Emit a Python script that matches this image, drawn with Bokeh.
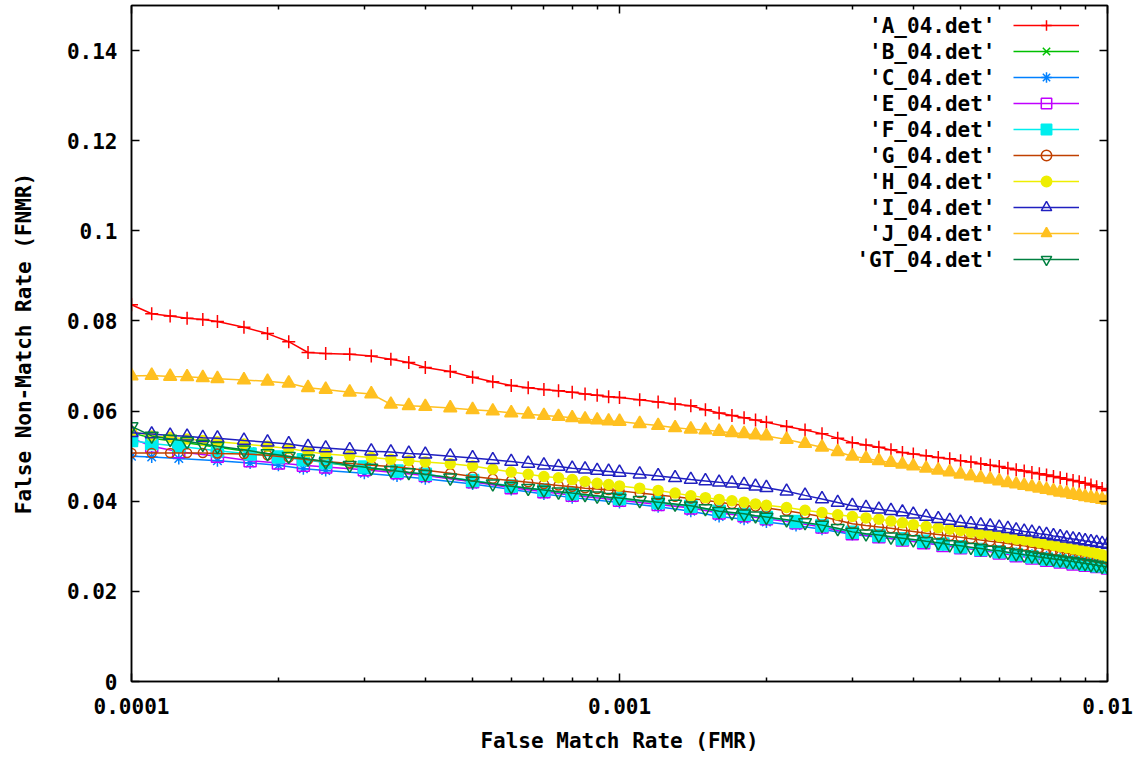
from bokeh.plotting import figure
from bokeh.models import (FixedTicker, CustomJSTickFormatter, LinearAxis, LogAxis,
                          Legend, LegendItem, Label)
from bokeh.core.properties import value
from bokeh.embed import file_html
from bokeh.resources import INLINE

# ---------------- data ----------------
# fine FMR grid used for the clearly visible curves
fmr_fine = [1e-4, 1.1e-4, 1.2e-4, 1.3e-4, 1.4e-4, 1.5e-4, 1.7e-4, 1.9e-4, 2.1e-4, 2.3e-4,
            2.5e-4, 2.8e-4, 3.1e-4, 3.4e-4, 3.7e-4, 4e-4, 4.5e-4, 5e-4, 5.5e-4, 6e-4,
            6.5e-4, 7e-4, 7.5e-4, 8e-4, 8.5e-4, 9e-4, 9.5e-4, 1e-3,
            1.1e-3, 1.2e-3, 1.3e-3, 1.4e-3, 1.5e-3, 1.6e-3, 1.7e-3, 1.8e-3, 1.9e-3, 2e-3,
            2.2e-3, 2.4e-3, 2.6e-3, 2.8e-3, 3e-3, 3.2e-3, 3.4e-3, 3.6e-3, 3.8e-3, 4e-3,
            4.25e-3, 4.5e-3, 4.75e-3, 5e-3, 5.25e-3, 5.5e-3, 5.75e-3, 6e-3, 6.25e-3, 6.5e-3,
            6.75e-3, 7e-3, 7.25e-3, 7.5e-3, 7.75e-3, 8e-3, 8.25e-3, 8.5e-3, 8.75e-3, 9e-3,
            9.25e-3, 9.5e-3, 9.75e-3, 1e-2]
# coarser FMR grid used for the curves that are mostly hidden under others
fmr_coarse = [1e-4, 1.1e-4, 1.25e-4, 1.5e-4, 1.75e-4, 2e-4, 2.25e-4, 2.5e-4, 3e-4, 3.5e-4,
              4e-4, 5e-4, 6e-4, 7e-4, 8e-4, 1e-3, 1.2e-3, 1.4e-3, 1.6e-3, 1.8e-3,
              2e-3, 2.3e-3, 2.6e-3, 3e-3, 3.4e-3, 3.8e-3, 4.2e-3, 4.6e-3, 5e-3, 5.5e-3,
              6e-3, 6.5e-3, 7e-3, 7.5e-3, 8e-3, 8.5e-3, 9e-3, 9.5e-3, 1e-2]

A_04 = [0.0836, 0.0816, 0.0811, 0.0806, 0.0803, 0.0799, 0.0786, 0.0772, 0.0754, 0.0730,
        0.0728, 0.0726, 0.0722, 0.0715, 0.0708, 0.0697, 0.0688, 0.0675, 0.0665, 0.0657,
        0.0652, 0.0648, 0.0645, 0.0642, 0.0638, 0.0635, 0.0632, 0.0630,
        0.0625, 0.0620, 0.0616, 0.0612, 0.0603, 0.0596, 0.0590, 0.0585, 0.0580, 0.0575,
        0.0566, 0.0558, 0.0550, 0.0540, 0.0530, 0.0525, 0.0520, 0.0514, 0.0508, 0.0505,
        0.0501, 0.0497, 0.0494, 0.0490, 0.0487, 0.0483, 0.0480, 0.0477, 0.0473, 0.0470,
        0.0467, 0.0464, 0.0461, 0.0458, 0.0455, 0.0452, 0.0449, 0.0446, 0.0443, 0.0440,
        0.0436, 0.0432, 0.0428, 0.0424]
J_04 = [0.0678, 0.0679, 0.0677, 0.0676, 0.0674, 0.0672, 0.0669, 0.0666, 0.0662, 0.0652,
        0.0648, 0.0642, 0.0638, 0.0615, 0.0612, 0.0610, 0.0607, 0.0603, 0.0600, 0.0596,
        0.0593, 0.0590, 0.0588, 0.0585, 0.0582, 0.0580, 0.0578, 0.0577,
        0.0572, 0.0568, 0.0563, 0.0560, 0.0558, 0.0555, 0.0552, 0.0550, 0.0547, 0.0545,
        0.0537, 0.0528, 0.0520, 0.0510, 0.0500, 0.0495, 0.0490, 0.0486, 0.0482, 0.0478,
        0.0473, 0.0469, 0.0465, 0.0460, 0.0456, 0.0452, 0.0449, 0.0445, 0.0441, 0.0438,
        0.0435, 0.0432, 0.0429, 0.0426, 0.0423, 0.0420, 0.0418, 0.0415, 0.0413, 0.0410,
        0.0408, 0.0406, 0.0404, 0.0402]
I_04 = [0.0552, 0.0549, 0.0546, 0.0544, 0.0541, 0.0540, 0.0535, 0.0531, 0.0527, 0.0521,
        0.0518, 0.0514, 0.0511, 0.0509, 0.0506, 0.0504, 0.0500, 0.0496, 0.0492, 0.0488,
        0.0484, 0.0480, 0.0477, 0.0473, 0.0471, 0.0468, 0.0466, 0.0464,
        0.0460, 0.0456, 0.0452, 0.0448, 0.0445, 0.0442, 0.0440, 0.0437, 0.0433, 0.0430,
        0.0422, 0.0413, 0.0405, 0.0397, 0.0390, 0.0386, 0.0382, 0.0379, 0.0376, 0.0371,
        0.0366, 0.0361, 0.0357, 0.0353, 0.0350, 0.0347, 0.0345, 0.0342, 0.0339, 0.0336,
        0.0333, 0.0331, 0.0328, 0.0326, 0.0323, 0.0321, 0.0318, 0.0316, 0.0314, 0.0312,
        0.0310, 0.0308, 0.0306, 0.0304]
H_04 = [0.0555, 0.0545, 0.0542, 0.0538, 0.0535, 0.0532, 0.0527, 0.0522, 0.0517, 0.0510,
        0.0505, 0.0501, 0.0497, 0.0493, 0.0490, 0.0487, 0.0483, 0.0478, 0.0471, 0.0465,
        0.0460, 0.0455, 0.0452, 0.0448, 0.0444, 0.0440, 0.0437, 0.0434,
        0.0429, 0.0424, 0.0418, 0.0412, 0.0408, 0.0404, 0.0401, 0.0398, 0.0394, 0.0391,
        0.0386, 0.0380, 0.0375, 0.0370, 0.0366, 0.0363, 0.0360, 0.0356, 0.0352, 0.0348,
        0.0344, 0.0341, 0.0338, 0.0335, 0.0331, 0.0328, 0.0325, 0.0322, 0.0319, 0.0316,
        0.0314, 0.0311, 0.0308, 0.0305, 0.0302, 0.0299, 0.0297, 0.0294, 0.0292, 0.0289,
        0.0287, 0.0284, 0.0281, 0.0278]
G_04 = [0.0507, 0.0507, 0.0507, 0.0507, 0.0507, 0.0506, 0.0505, 0.0502, 0.0497, 0.0492,
        0.0488, 0.0484, 0.0480, 0.0477, 0.0473, 0.0469, 0.0462, 0.0455, 0.0450, 0.0446,
        0.0442, 0.0438, 0.0435, 0.0432, 0.0429, 0.0427, 0.0425, 0.0423,
        0.0418, 0.0414, 0.0410, 0.0406, 0.0402, 0.0398, 0.0394, 0.0391, 0.0388, 0.0385,
        0.0379, 0.0372, 0.0366, 0.0358, 0.0350, 0.0346, 0.0343, 0.0340, 0.0336, 0.0333,
        0.0329, 0.0326, 0.0323, 0.0320, 0.0317, 0.0314, 0.0311, 0.0309, 0.0306, 0.0303,
        0.0301, 0.0298, 0.0296, 0.0293, 0.0291, 0.0288, 0.0285, 0.0283, 0.0281, 0.0278,
        0.0276, 0.0274, 0.0272, 0.0270]
GT_04 = [0.0566, 0.0545, 0.0538, 0.0533, 0.0527, 0.0522, 0.0514, 0.0506, 0.0500, 0.0494,
         0.0488, 0.0480, 0.0474, 0.0469, 0.0464, 0.0460, 0.0452, 0.0445, 0.0439, 0.0433,
         0.0429, 0.0425, 0.0421, 0.0418, 0.0415, 0.0412, 0.0409, 0.0407,
         0.0402, 0.0398, 0.0394, 0.0390, 0.0384, 0.0378, 0.0375, 0.0372, 0.0368, 0.0365,
         0.0359, 0.0353, 0.0347, 0.0340, 0.0332, 0.0328, 0.0325, 0.0321, 0.0318, 0.0315,
         0.0311, 0.0308, 0.0304, 0.0301, 0.0298, 0.0295, 0.0292, 0.0290, 0.0287, 0.0284,
         0.0281, 0.0279, 0.0276, 0.0274, 0.0272, 0.0270, 0.0268, 0.0266, 0.0264, 0.0262,
         0.0260, 0.0258, 0.0256, 0.0255]

B_04 = [0.0552, 0.0540, 0.0532, 0.0520, 0.0510, 0.0502, 0.0494, 0.0486, 0.0474, 0.0466,
        0.0458, 0.0444, 0.0432, 0.0424, 0.0416, 0.0405, 0.0396, 0.0388, 0.0377, 0.0370,
        0.0363, 0.0354, 0.0345, 0.0330, 0.0323, 0.0316, 0.0310, 0.0304, 0.0299, 0.0293,
        0.0288, 0.0282, 0.0277, 0.0272, 0.0268, 0.0264, 0.0260, 0.0256, 0.0253]
C_04 = [0.0500, 0.0498, 0.0495, 0.0490, 0.0485, 0.0480, 0.0472, 0.0468, 0.0462, 0.0456,
        0.0450, 0.0438, 0.0426, 0.0416, 0.0408, 0.0397, 0.0388, 0.0378, 0.0366, 0.0360,
        0.0354, 0.0346, 0.0338, 0.0326, 0.0320, 0.0314, 0.0308, 0.0303, 0.0298, 0.0293,
        0.0288, 0.0284, 0.0280, 0.0276, 0.0273, 0.0270, 0.0267, 0.0264, 0.0262]
E_04 = [0.0540, 0.0522, 0.0510, 0.0500, 0.0490, 0.0485, 0.0480, 0.0476, 0.0470, 0.0463,
        0.0457, 0.0443, 0.0430, 0.0421, 0.0413, 0.0402, 0.0393, 0.0385, 0.0374, 0.0368,
        0.0361, 0.0352, 0.0343, 0.0328, 0.0321, 0.0314, 0.0308, 0.0302, 0.0297, 0.0291,
        0.0285, 0.0279, 0.0274, 0.0269, 0.0265, 0.0261, 0.0258, 0.0255, 0.0252]
F_04 = [0.0535, 0.0528, 0.0522, 0.0512, 0.0505, 0.0498, 0.0492, 0.0486, 0.0476, 0.0467,
        0.0460, 0.0446, 0.0434, 0.0425, 0.0417, 0.0406, 0.0397, 0.0389, 0.0378, 0.0371,
        0.0364, 0.0355, 0.0346, 0.0331, 0.0324, 0.0317, 0.0311, 0.0305, 0.0299, 0.0293,
        0.0288, 0.0282, 0.0277, 0.0272, 0.0268, 0.0264, 0.0260, 0.0257, 0.0254]

labels = ["'A_04.det'", "'B_04.det'", "'C_04.det'", "'E_04.det'", "'F_04.det'",
          "'G_04.det'", "'H_04.det'", "'I_04.det'", "'J_04.det'", "'GT_04.det'"]
series = [A_04, B_04, C_04, E_04, F_04, G_04, H_04, I_04, J_04, GT_04]
xs_of = [fmr_fine, fmr_coarse, fmr_coarse, fmr_coarse, fmr_coarse,
         fmr_fine, fmr_fine, fmr_fine, fmr_fine, fmr_fine]
colors = ["#ff0000", "#00c000", "#0080ff", "#c000ff", "#00eeee",
          "#c04000", "#eeee00", "#2020c0", "#ffc020", "#008040"]
markers = ["cross", "x", "asterisk", "square", "square",
           "circle", "circle", "triangle", "triangle", "inverted_triangle"]
filled = [False, False, False, False, True, False, True, False, True, False]
msizes = [13, 12, 12, 12, 12, 9, 10, 13, 13, 13]

y_ticks = [0, 0.02, 0.04, 0.06, 0.08, 0.1, 0.12, 0.14]
x_ticks = [1e-4, 1e-3, 1e-2]
x_minor = [2e-4, 3e-4, 4e-4, 5e-4, 6e-4, 7e-4, 8e-4, 9e-4,
           2e-3, 3e-3, 4e-3, 5e-3, 6e-3, 7e-3, 8e-3, 9e-3]

FONT = "DejaVu Sans Mono"
FS = "21px"

p = figure(width=1148, height=763, x_axis_type="log", x_range=(1e-4, 1e-2),
           y_range=(0, 0.15), output_backend="svg", toolbar_location=None,
           min_border_left=131, min_border_right=41, min_border_top=5,
           min_border_bottom=82)
p.xgrid.visible = False
p.ygrid.visible = False
p.outline_line_color = "black"
p.outline_line_width = 1.5
p.background_fill_color = "white"
p.border_fill_color = "white"

xt = FixedTicker(ticks=x_ticks, minor_ticks=x_minor)
yt = FixedTicker(ticks=y_ticks)
xfmt = CustomJSTickFormatter(code="return tick.toString();")
yfmt = CustomJSTickFormatter(code="return tick == 0 ? '0' : parseFloat(tick.toFixed(2)).toString();")


def style_axis(ax):
    ax.axis_line_color = "black"
    ax.axis_line_width = 1.5
    ax.major_tick_in = 8
    ax.major_tick_out = 0
    ax.minor_tick_in = 4
    ax.minor_tick_out = 0
    ax.major_tick_line_color = "black"
    ax.major_tick_line_width = 1.5
    ax.minor_tick_line_color = "black"
    ax.minor_tick_line_width = 1.5
    ax.major_label_text_font = FONT
    ax.major_label_text_font_size = FS
    ax.major_label_text_font_style = "bold"
    ax.major_label_text_color = "black"
    ax.axis_label_text_font = FONT
    ax.axis_label_text_font_size = FS
    ax.axis_label_text_font_style = "bold"
    ax.axis_label_text_color = "black"


xa = p.xaxis[0]
xa.ticker = xt
xa.formatter = xfmt
style_axis(xa)
xa.major_label_standoff = 16
xa.axis_label = "False Match Rate (FMR)"
xa.axis_label_standoff = 12

ya = p.yaxis[0]
ya.ticker = yt
ya.formatter = yfmt
style_axis(ya)
ya.minor_tick_line_color = None
ya.major_label_standoff = 14
ya.axis_label = "False Non-Match Rate (FNMR)"
ya.axis_label_standoff = 28

empty = CustomJSTickFormatter(code="return '';")
top = LogAxis(ticker=xt, formatter=empty)
style_axis(top)
top.major_label_standoff = 0
top.major_label_text_font_size = "0px"
p.add_layout(top, "above")
right = LinearAxis(ticker=yt, formatter=empty)
style_axis(right)
right.minor_tick_line_color = None
right.major_label_standoff = 0
right.major_label_text_font_size = "0px"
p.add_layout(right, "right")

items = []
for lab, xs, ys, c, m, f, s in zip(labels, xs_of, series, colors, markers, filled, msizes):
    lr = p.line(xs, ys, line_color=c, line_width=1.5)
    sr = p.scatter(xs, ys, marker=m, size=s, line_color=c, line_width=1.5,
                   fill_color=c if f else None)
    items.append(LegendItem(label=value(""), renderers=[lr, sr]))

legend = Legend(items=items, location=(882, 409), glyph_width=66, glyph_height=26,
                label_width=0, label_height=26, label_standoff=0, spacing=0,
                padding=0, margin=0, border_line_color=None,
                background_fill_alpha=0, label_text_font_size="0px")
p.add_layout(legend)

for k, lab in enumerate(labels):
    p.add_layout(Label(x=864, y=656 - 26 * k, x_units="screen", y_units="screen",
                       text=lab, text_align="right", text_baseline="middle",
                       text_font=FONT, text_font_size=FS, text_font_style="bold",
                       text_color="black"))

open("out.html", "w").write(file_html(p, INLINE))
